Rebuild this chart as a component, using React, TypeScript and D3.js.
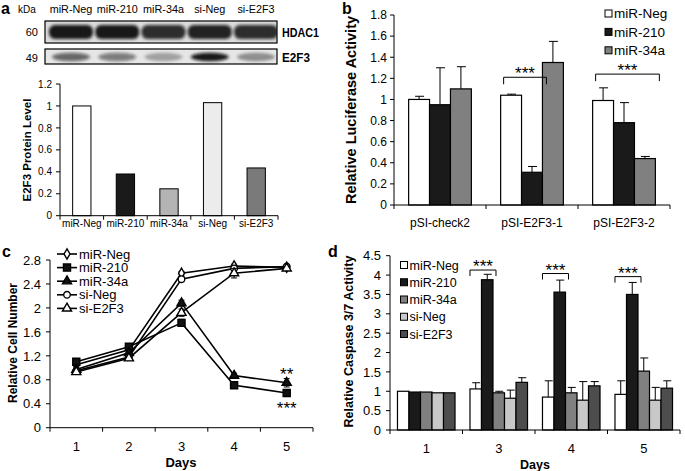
import React from 'react';
import * as d3 from 'd3';

const FONT = 'Arial, "Liberation Sans", Helvetica, sans-serif';

// ---- panel a: western blot + E2F3 protein level
const lanes = ['miR-Neg', 'miR-210', 'miR-34a', 'si-Neg', 'si-E2F3'];
const hdacIntensity = [0.95, 0.95, 0.85, 0.9, 0.85];
const e2f3Intensity = [0.6, 0.5, 0.3, 0.95, 0.38];
const e2f3Level = [1.0, 0.38, 0.245, 1.03, 0.435];
const laneFills = ['#ffffff', '#1a1a1a', '#b4b4b4', '#ececec', '#7a7a7a'];
const levelTicks = [0, 0.2, 0.4, 0.6, 0.8, 1, 1.2];

// ---- panel b: luciferase
const lucGroups = ['pSI-check2', 'pSI-E2F3-1', 'pSI-E2F3-2'];
const lucSeries = ['miR-Neg', 'miR-210', 'miR-34a'];
const lucFills = ['#ffffff', '#1a1a1a', '#808080'];
const lucNeg = [1.0, 1.04, 0.99];
const luc210 = [0.95, 0.31, 0.78];
const luc34a = [1.1, 1.35, 0.44];
const lucNegErr = [0.03, 0.01, 0.12];
const luc210Err = [0.35, 0.055, 0.19];
const luc34aErr = [0.21, 0.2, 0.02];
const lucTicks = [0, 0.2, 0.4, 0.6, 0.8, 1, 1.2, 1.4, 1.6, 1.8];
const lucSig = [
  { group: 'pSI-E2F3-1', from: 0, to: 1, level: 1.21 },
  { group: 'pSI-E2F3-2', from: 0, to: 2, level: 1.24 },
];

// ---- panel c: cell number
const days = ['1', '2', '3', '4', '5'];
const cellSeries = ['miR-Neg', 'miR-210', 'miR-34a', 'si-Neg', 'si-E2F3'];
const cellNeg = [1.05, 1.3, 2.58, 2.7, 2.68];
const cell210 = [1.1, 1.35, 1.75, 0.71, 0.58];
const cell34a = [0.97, 1.25, 2.08, 0.87, 0.75];
const cellSiNeg = [0.95, 1.18, 2.48, 2.66, 2.69];
const cellSiE2F3 = [0.93, 1.16, 1.92, 2.58, 2.66];
const cellNegErr = [0.03, 0.03, 0.03, 0.03, 0.02];
const cell210Err = [0.03, 0.04, 0.06, 0.04, 0.04];
const cell34aErr = [0.03, 0.03, 0.05, 0.04, 0.07];
const cellSiNegErr = [0.03, 0.03, 0.04, 0.03, 0.02];
const cellSiE2F3Err = [0.03, 0.03, 0.06, 0.08, 0.03];
const cellTicks = [0, 0.4, 0.8, 1.2, 1.6, 2, 2.4, 2.8];
const cellSig = [
  { series: 'miR-34a', day: '5', label: '**', above: true },
  { series: 'miR-210', day: '5', label: '***', above: false },
];

// ---- panel d: caspase 3/7
const casDays = ['1', '3', '4', '5'];
const casSeries = ['miR-Neg', 'miR-210', 'miR-34a', 'si-Neg', 'si-E2F3'];
const casFills = ['#ffffff', '#1a1a1a', '#808080', '#c8c8c8', '#4d4d4d'];
const casNeg = [1.0, 1.06, 0.85, 0.92];
const cas210 = [0.98, 3.88, 3.56, 3.5];
const cas34a = [0.98, 0.96, 0.96, 1.52];
const casSiNeg = [0.96, 0.82, 0.77, 0.77];
const casSiE2F3 = [0.96, 1.23, 1.14, 1.08];
const casNegErr = [0, 0.16, 0.42, 0.35];
const cas210Err = [0, 0.14, 0.31, 0.31];
const cas34aErr = [0, 0.04, 0.14, 0.34];
const casSiNegErr = [0, 0.21, 0.48, 0.33];
const casSiE2F3Err = [0, 0.12, 0.11, 0.19];
const casTicks = [0, 0.5, 1, 1.5, 2, 2.5, 3, 3.5, 4, 4.5];
const casSig = [
  { day: '3', from: 0, to: 1, level: 4.13 },
  { day: '4', from: 0, to: 1, level: 4.04 },
  { day: '5', from: 0, to: 1, level: 3.96 },
];

type Lin = d3.ScaleLinear<number, number>;
type Band = d3.ScaleBand<string>;

function YAxis({ x, y, ticks, size, gap = 7 }: { x: number; y: Lin; ticks: number[]; size: number; gap?: number }) {
  return (
    <g>
      <line x1={x} x2={x} y1={y(ticks[0])} y2={y(ticks[ticks.length - 1])} stroke="#000" />
      {ticks.map((t) => (
        <g key={t}>
          <line x1={x - 4} x2={x} y1={y(t)} y2={y(t)} stroke="#000" />
          <text x={x - gap} y={y(t)} dy="0.36em" textAnchor="end" fontSize={size}>
            {String(t)}
          </text>
        </g>
      ))}
    </g>
  );
}

function XAxis({ x, y0, labelY, size }: { x: Band; y0: number; labelY: number; size: number }) {
  const [r0, r1] = x.range();
  const edges = x.domain().map((d) => x(d)!).concat([r1]);
  return (
    <g>
      <line x1={r0} x2={r1} y1={y0} y2={y0} stroke="#000" />
      {edges.map((e, i) => (
        <line key={i} x1={e} x2={e} y1={y0} y2={y0 + 4} stroke="#000" />
      ))}
      {x.domain().map((d) => (
        <text key={d} x={x(d)! + x.bandwidth() / 2} y={labelY} textAnchor="middle" fontSize={size}>
          {d}
        </text>
      ))}
    </g>
  );
}

function YTitle({ x, cy, text, size }: { x: number; cy: number; text: string; size: number }) {
  return (
    <text transform={`translate(${x},${cy}) rotate(-90)`} textAnchor="middle" fontSize={size} fontWeight="bold">
      {text}
    </text>
  );
}

function Stars({ x, y, label }: { x: number; y: number; label: string }) {
  // y = vertical centre of the asterisks
  return (
    <text x={x} y={y + 10} textAnchor="middle" fontSize={17}>
      {label}
    </text>
  );
}

function PanelA() {
  const xLane = d3.scalePoint<string>().domain(lanes).range([71, 256]);
  const x = d3.scaleBand<string>().domain(lanes).range([60, 278]);
  const y = d3.scaleLinear().domain([0, 1.2]).range([215.7, 84]);
  const bw = x.bandwidth() * 0.42;
  return (
    <g>
      <text x={1} y={14} fontSize={16} fontWeight="bold">a</text>
      <text x={18} y={13} fontSize={10}>kDa</text>
      {lanes.map((l) => (
        <text key={l} x={xLane(l)} y={13} textAnchor="middle" fontSize={10.8}>{l}</text>
      ))}
      <defs>
        <filter id="blotBlur" x="-20%" y="-50%" width="140%" height="200%">
          <feGaussianBlur stdDeviation="1.6" />
        </filter>
        <clipPath id="clipH"><rect x={45} y={21} width={232} height={22} /></clipPath>
        <clipPath id="clipE"><rect x={45} y={49} width={232} height={15} /></clipPath>
      </defs>
      {/* HDAC1 blot */}
      <rect x={45} y={21} width={232} height={22} fill="#dcdcdc" />
      <g clipPath="url(#clipH)">
        {lanes.map((l, i) => (
          <rect key={l} x={xLane(l)! - 22} y={25} width={44} height={14} rx={6}
            fill={`rgba(15,15,15,${hdacIntensity[i]})`} filter="url(#blotBlur)" />
        ))}
      </g>
      <rect x={45} y={21} width={232} height={22} fill="none" stroke="#000" strokeWidth={1.2} />
      <text x={38} y={36} textAnchor="end" fontSize={11}>60</text>
      <text x={282} y={37} fontSize={12.5} fontWeight="bold" textLength={37} lengthAdjust="spacingAndGlyphs">HDAC1</text>
      {/* E2F3 blot */}
      <rect x={45} y={49} width={232} height={15} fill="#e6e6e6" />
      <g clipPath="url(#clipE)">
        {lanes.map((l, i) => (
          <ellipse key={l} cx={xLane(l)!} cy={57} rx={19} ry={4.2}
            fill={`rgba(15,15,15,${e2f3Intensity[i]})`} filter="url(#blotBlur)" />
        ))}
      </g>
      <rect x={45} y={49} width={232} height={15} fill="none" stroke="#000" strokeWidth={1.2} />
      <text x={38} y={62} textAnchor="end" fontSize={11}>49</text>
      <text x={282} y={62} fontSize={12.5} fontWeight="bold" textLength={28} lengthAdjust="spacingAndGlyphs">E2F3</text>

      {/* bar chart */}
      {lanes.map((l, i) => (
        <rect key={l} x={x(l)! + x.bandwidth() / 2 - bw / 2} y={y(e2f3Level[i])} width={bw}
          height={y(0) - y(e2f3Level[i])} fill={laneFills[i]} stroke="#000" strokeWidth={1} />
      ))}
      <YAxis x={60} y={y} ticks={levelTicks} size={10} gap={8} />
      <XAxis x={x} y0={y(0)} labelY={227} size={10} />
      <YTitle x={31} cy={150} text="E2F3 Protein Level" size={11.5} />
    </g>
  );
}

function PanelB() {
  const x = d3.scaleBand<string>().domain(lucGroups).range([394, 670]);
  const xi = d3.scaleBand<string>().domain(lucSeries).range([0, x.bandwidth()]).paddingOuter(0.7);
  const y = d3.scaleLinear().domain([0, 1.8]).range([205, 15]);
  const vals = [lucNeg, luc210, luc34a];
  const errs = [lucNegErr, luc210Err, luc34aErr];
  const bw = xi.bandwidth();
  return (
    <g>
      <text x={342} y={14} fontSize={16} fontWeight="bold">b</text>
      {lucGroups.map((g, gi) => (
        <g key={g} transform={`translate(${x(g)},0)`}>
          {lucSeries.map((s, si) => {
            const v = vals[si][gi];
            const e = errs[si][gi];
            const cx = xi(s)! + bw / 2;
            return (
              <g key={s}>
                <line x1={cx} x2={cx} y1={y(v)} y2={y(v + e)} stroke="#000" />
                <line x1={cx - 4} x2={cx + 5} y1={y(v + e)} y2={y(v + e)} stroke="#000" />
                <rect x={xi(s)} y={y(v)} width={bw} height={y(0) - y(v)} fill={lucFills[si]} stroke="#000" strokeWidth={1.2} />
              </g>
            );
          })}
        </g>
      ))}
      {lucSig.map((sg) => {
        const x1 = x(sg.group)! + xi(lucSeries[sg.from])! + 3;
        const x2 = x(sg.group)! + xi(lucSeries[sg.to])! + bw + 4;
        const yy = y(sg.level);
        return (
          <g key={sg.group}>
            <path d={`M${x1},${yy + 7}V${yy}H${x2}V${yy + 7}`} fill="none" stroke="#000" />
            <Stars x={(x1 + x2) / 2} y={yy - 8} label="***" />
          </g>
        );
      })}
      <YAxis x={394} y={y} ticks={lucTicks} size={12} gap={7} />
      <XAxis x={x} y0={y(0)} labelY={227} size={12} />
      <YTitle x={356} cy={110} text="Relative Luciferase Activity" size={14.5} />
      {lucSeries.map((s, i) => (
        <g key={s} transform={`translate(605,${13.5 + i * 18.4})`}>
          <rect x={0} y={-3.5} width={7} height={7} fill={lucFills[i]} stroke="#000" />
          <text x={9} y={0} dy="0.36em" fontSize={13.5}>{s}</text>
        </g>
      ))}
    </g>
  );
}

const cellVals = [cellNeg, cell210, cell34a, cellSiNeg, cellSiE2F3];
const cellErrs = [cellNegErr, cell210Err, cell34aErr, cellSiNegErr, cellSiE2F3Err];
const cellSymbols = [d3.symbolDiamond, d3.symbolSquare, d3.symbolTriangle, d3.symbolCircle, d3.symbolTriangle];
const cellSymbolSizes = [30, 50, 36, 34, 36];
const cellOpen = [true, false, false, true, true];

function Marker({ i, x, y }: { i: number; x: number; y: number }) {
  const p = d3.symbol().type(cellSymbols[i]).size(cellSymbolSizes[i])()!;
  return <path d={p} transform={`translate(${x},${y})`} fill={cellOpen[i] ? '#fff' : '#111'} stroke="#000" strokeWidth={1.4} />;
}

function PanelC() {
  const x = d3.scaleBand<string>().domain(days).range([50, 313]);
  const y = d3.scaleLinear().domain([0, 2.8]).range([427.7, 260]);
  const cx = (d: string) => x(d)! + x.bandwidth() / 2;
  const line = d3.line<number>().x((_, i) => cx(days[i])).y((v) => y(v));
  return (
    <g>
      <text x={2} y={257} fontSize={16} fontWeight="bold">c</text>
      <YAxis x={50} y={y} ticks={cellTicks} size={13} gap={9} />
      <XAxis x={x} y0={y(0)} labelY={451} size={13} />
      <text x={181} y={467} textAnchor="middle" fontSize={13} fontWeight="bold">Days</text>
      <YTitle x={16.5} cy={343} text="Relative Cell Number" size={12} />
      {cellVals.map((vals, i) => (
        <path key={i} d={line(vals)!} fill="none" stroke="#000" strokeWidth={1.6} />
      ))}
      {cellVals.map((vals, i) =>
        vals.map((v, j) => {
          const e = cellErrs[i][j];
          const px = cx(days[j]);
          return (
            <g key={`${i}-${j}`}>
              <line x1={px} x2={px} y1={y(v - e)} y2={y(v + e)} stroke="#000" />
              <line x1={px - 3} x2={px + 3} y1={y(v + e)} y2={y(v + e)} stroke="#000" />
              <line x1={px - 3} x2={px + 3} y1={y(v - e)} y2={y(v - e)} stroke="#000" />
              <Marker i={i} x={px} y={y(v)} />
            </g>
          );
        })
      )}
      {cellSig.map((sg) => {
        const si = cellSeries.indexOf(sg.series);
        const di = days.indexOf(sg.day);
        const yy = y(cellVals[si][di]) + (sg.above ? -13 : 11);
        return <Stars key={sg.label} x={cx(sg.day)} y={yy} label={sg.label} />;
      })}
      {cellSeries.map((s, i) => (
        <g key={s} transform={`translate(57,${254 + i * 13.6})`}>
          <line x1={0} x2={20} y1={0} y2={0} stroke="#000" strokeWidth={1.6} />
          <Marker i={i} x={10} y={0} />
          <text x={22} y={0} dy="0.36em" fontSize={13}>{s}</text>
        </g>
      ))}
    </g>
  );
}

function PanelD() {
  const x = d3.scaleBand<string>().domain(casDays).range([390, 680]);
  const xi = d3.scaleBand<string>().domain(casSeries).range([0, x.bandwidth()]).paddingOuter(0.65);
  const y = d3.scaleLinear().domain([0, 4.5]).range([430, 255.7]);
  const vals = [casNeg, cas210, cas34a, casSiNeg, casSiE2F3];
  const errs = [casNegErr, cas210Err, cas34aErr, casSiNegErr, casSiE2F3Err];
  const bw = xi.bandwidth();
  return (
    <g>
      <text x={328} y={257} fontSize={16} fontWeight="bold">d</text>
      {casDays.map((dd, gi) => (
        <g key={dd} transform={`translate(${x(dd)},0)`}>
          {casSeries.map((s, si) => {
            const v = vals[si][gi];
            const e = errs[si][gi];
            const c = xi(s)! + bw / 2;
            return (
              <g key={s}>
                {e > 0 && (
                  <g>
                    <line x1={c} x2={c} y1={y(v)} y2={y(v + e)} stroke="#000" />
                    <line x1={c - 3.5} x2={c + 4.5} y1={y(v + e)} y2={y(v + e)} stroke="#000" />
                  </g>
                )}
                <rect x={xi(s)} y={y(v)} width={bw} height={y(0) - y(v)} fill={casFills[si]} stroke="#000" strokeWidth={1.2} />
              </g>
            );
          })}
        </g>
      ))}
      {casSig.map((sg) => {
        const x1 = x(sg.day)! + xi(casSeries[sg.from])!;
        const x2 = x(sg.day)! + xi(casSeries[sg.to])! + bw + 3;
        const yy = y(sg.level);
        return (
          <g key={sg.day}>
            <path d={`M${x1},${yy + 6}V${yy}H${x2}V${yy + 6}`} fill="none" stroke="#000" />
            <Stars x={(x1 + x2) / 2} y={yy - 8} label="***" />
          </g>
        );
      })}
      <YAxis x={390} y={y} ticks={casTicks} size={13} gap={9} />
      <XAxis x={x} y0={y(0)} labelY={453} size={13} />
      <text x={535} y={469} textAnchor="middle" fontSize={12.5} fontWeight="bold">Days</text>
      <YTitle x={353} cy={341.5} text="Relative Caspase 3/7 Activity" size={12.5} />
      {casSeries.map((s, i) => (
        <g key={s} transform={`translate(400.5,${265 + i * 17.25})`}>
          <rect x={0} y={-3.5} width={7} height={7} fill={casFills[i]} stroke="#000" />
          <text x={9} y={0} dy="0.36em" fontSize={12.5}>{s}</text>
        </g>
      ))}
    </g>
  );
}

export default function App() {
  return (
    <svg width={685} height={471} style={{ position: 'absolute', left: 0, top: 0, background: '#fff' }} fontFamily={FONT}>
      <rect width={685} height={471} fill="#fff" />
      <PanelA />
      <PanelB />
      <PanelC />
      <PanelD />
    </svg>
  );
}
